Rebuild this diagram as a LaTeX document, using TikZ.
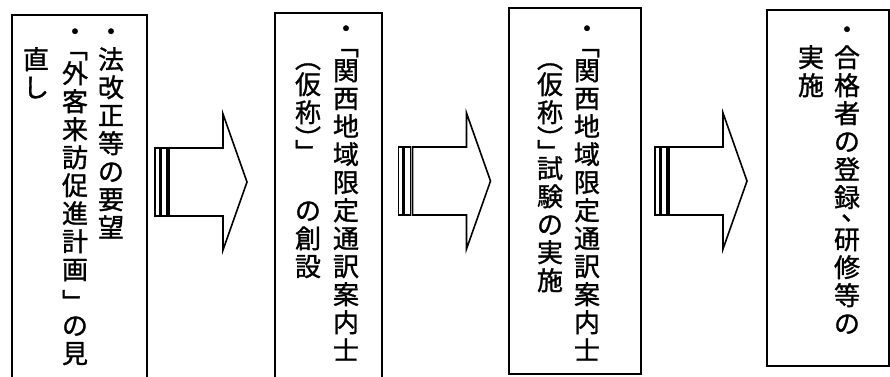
\documentclass[tikz,border=0pt]{standalone}
\usepackage{fontspec}
\usepackage{graphicx}
\newfontfamily\jpfont[FakeBold=1.2]{Noto Sans CJK JP}
\newlength\cpitch \setlength\cpitch{28pt}
\newlength\cwid \setlength\cwid{26pt}
% one cell of vertical text: #1 advance factor, #2 extra downward shift (pt), #3 glyph
\newcommand\vcell[3]{\vbox to #1\cpitch{\vskip\dimexpr #1\cpitch/2+0.38em+#2pt\relax\hbox to\cwid{\hss\smash{#3}\hss}\vss}}
% em square centred on its baseline
\newcommand\emsq[1]{\hbox to 1em{\vrule height 0.5em depth 0.5em width 0pt\lower0.38em\hbox to 1em{\hss#1\hss}\hss}}
% rotated (vertical-form) punctuation: #1 advance, #2 shift (pt), #3 horizontal glyph
\newcommand\vrot[3]{\vbox to #1\cpitch{\vskip\dimexpr #1\cpitch/2+#2pt\relax\hbox to\cwid{\hss\smash{\rotatebox[origin=c]{-90}{\emsq{#3}}}\hss}\vss}}
% vertical ideographic comma: moved to the upper right
\newcommand\vcomma[1]{\vbox to #1\cpitch{\vskip\dimexpr #1\cpitch/2+0.38em-0.3em\relax\hbox to\cwid{\hss\smash{\kern0.55em 、}\hss}\vss}}
\def\vfull#1{\vfullloop#1\relax}
\def\vfullloop#1{\ifx\relax#1\else\vcell{1}{0}{#1}\expandafter\vfullloop\fi}
\newcommand\vcol[1]{\vtop{\offinterlineskip #1}}
\begin{document}
\begin{tikzpicture}[x=1pt,y=-1pt,
  boxframe/.style={draw=black,line width=1.6pt,fill=none,inner sep=0pt,anchor=north west},
  colm/.style={inner sep=0pt,anchor=north,font=\jpfont\fontsize{26pt}{28pt}\selectfont},
  arrbody/.style={draw=black,line width=1.6pt,fill=white,line join=miter},
  arrstripe/.style={draw=black,line width=1.2pt,fill=white}]
\useasboundingbox (0,0) rectangle (890,376);
\begin{scope}
\clip (0,0) rectangle (890,376);
% boxes
\node[boxframe,minimum width=135pt,minimum height=380pt] (b1) at (11,14) {};
\node[boxframe,minimum width=107pt,minimum height=380pt] (b2) at (274,12) {};
\node[boxframe,minimum width=132pt,minimum height=366pt] (b3) at (508,7) {};
\node[boxframe,minimum width=122pt,minimum height=356pt] (b4) at (766,9) {};
\end{scope}
% box 1 text
\node[colm] (b1c1) at (111,17) {\vcol{\vfull{・法改正等の要望}}};
\node[colm] (b1c2) at (75,17) {\vcol{\vfull{・}\vrot{0.5}{-4}{「}\vfull{外客来訪促進計画}\vrot{1}{5}{」}\vfull{の見}}};
\node[colm] (b1c3) at (36,45) {\vcol{\vfull{直し}}};
% box 2 text
\node[colm] (b2c1) at (346,14) {\vcol{\vfull{・}\vrot{0.5}{-4}{「}\vfull{関西地域限定通訳案内士}}};
\node[colm] (b2c2) at (308,56) {\vcol{\vrot{0.5}{-5}{（}\vfull{仮称}\vrot{0.5}{5}{）}\vrot{0.5}{5}{」}\vcell{1.5}{0}{}\vfull{の創設}}};
% box 3 text
\node[colm] (b3c1) at (587,14) {\vcol{\vfull{・}\vrot{0.5}{-4}{「}\vfull{関西地域限定通訳案内士}}};
\node[colm] (b3c2) at (550,56) {\vcol{\vrot{0.5}{-5}{（}\vfull{仮称}\vrot{0.5}{5}{）}\vrot{0.5}{5}{」}\vfull{試験の実施}}};
% box 4 text
\node[colm] (b4c1) at (847,15) {\vcol{\vfull{・合格者の登録}\vcomma{0.5}\vfull{研修等の}}};
\node[colm] (b4c2) at (811,43) {\vcol{\vfull{実施}}};
% striped arrows
\coordinate (a1) at (155,182);
\coordinate (a2) at (398.5,181);
\coordinate (a3) at (655,181);
\foreach \a in {a1,a2,a3}{
  \begin{scope}[shift={(\a)}]
    \draw[arrstripe] (0,-34) rectangle (4.5,34);
    \draw[arrstripe] (6,-34) rectangle (12,34);
    \draw[arrbody] (14,-34) -- (68,-34) -- (68,-68) -- (92,0) -- (68,68) -- (68,34) -- (14,34) -- cycle;
  \end{scope}
}
\end{tikzpicture}
\end{document}
